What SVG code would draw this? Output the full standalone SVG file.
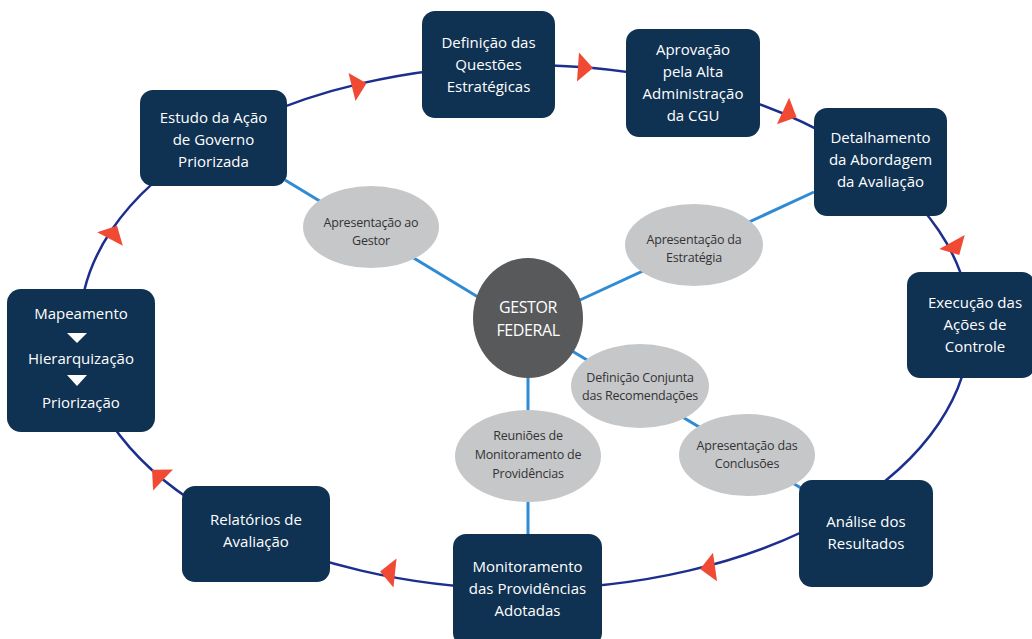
<svg xmlns="http://www.w3.org/2000/svg" xmlns:xlink="http://www.w3.org/1999/xlink" width="1032" height="639" viewBox="0 0 1032 639">
<style>
.box{fill:#0f3152;}
.bt{font-family:"Open Sans","Noto Sans",sans-serif;font-size:15px;fill:#ffffff;text-anchor:middle;}
.oval{fill:#c6c7c9;}
.ot{font-family:"Open Sans","Noto Sans",sans-serif;font-size:12.5px;fill:#333335;text-anchor:middle;letter-spacing:-0.2px;}
.cycle{fill:none;stroke:#1d2f8e;stroke-width:2.5;}
.spoke{fill:none;stroke:#2e8bd4;stroke-width:3;}
.arr{fill:#f04a35;}
</style>
<defs>
<polygon id="ah" class="arr" points="15,0 0,-14.5 0,14.5"/>
</defs>
<rect width="1032" height="639" fill="#ffffff"/>
<g id="connectors">
<ellipse class="cycle" cx="525" cy="327" rx="445" ry="262"/>
<line class="spoke" x1="285" y1="180" x2="478" y2="297"/>
<line class="spoke" x1="814" y1="192" x2="580" y2="300"/>
<line class="spoke" x1="572" y1="351" x2="806" y2="491"/>
<line class="spoke" x1="528" y1="375" x2="528" y2="536"/>
<use xlink:href="#ah" transform="translate(352,87) rotate(-14)"/>
<use xlink:href="#ah" transform="translate(578,67) rotate(4)"/>
<use xlink:href="#ah" transform="translate(783,111) rotate(25)"/>
<use xlink:href="#ah" transform="translate(952,242) rotate(61)"/>
<use xlink:href="#ah" transform="translate(715,567) rotate(172)"/>
<use xlink:href="#ah" transform="translate(395,573) rotate(186)"/>
<use xlink:href="#ah" transform="translate(163,480) rotate(-137)"/>
<use xlink:href="#ah" transform="translate(110,239) rotate(-62)"/>
</g>
<g id="estudo">
<rect class="box" x="140" y="90" width="147" height="96" rx="13"/>
<text class="bt" x="213.5" y="123">Estudo da Ação</text>
<text class="bt" x="213.5" y="145">de Governo</text>
<text class="bt" x="213.5" y="167">Priorizada</text>
</g>
<g id="definicao">
<rect class="box" x="422" y="11" width="133" height="107" rx="13"/>
<text class="bt" x="488.5" y="48">Definição das</text>
<text class="bt" x="488.5" y="70">Questões</text>
<text class="bt" x="488.5" y="92">Estratégicas</text>
</g>
<g id="aprovacao">
<rect class="box" x="626" y="29" width="134" height="108" rx="13"/>
<text class="bt" x="693" y="55">Aprovação</text>
<text class="bt" x="693" y="77">pela Alta</text>
<text class="bt" x="693" y="99">Administração</text>
<text class="bt" x="693" y="121">da CGU</text>
</g>
<g id="detalhamento">
<rect class="box" x="814" y="108" width="133" height="108" rx="13"/>
<text class="bt" x="880.5" y="143">Detalhamento</text>
<text class="bt" x="880.5" y="165">da Abordagem</text>
<text class="bt" x="880.5" y="187">da Avaliação</text>
</g>
<g id="execucao">
<rect class="box" x="907" y="272" width="128" height="106" rx="13"/>
<text class="bt" x="975" y="308">Execução das</text>
<text class="bt" x="975" y="330">Ações de</text>
<text class="bt" x="975" y="352">Controle</text>
</g>
<g id="analise">
<rect class="box" x="799" y="480" width="134" height="107" rx="13"/>
<text class="bt" x="866" y="527">Análise dos</text>
<text class="bt" x="866" y="549">Resultados</text>
</g>
<g id="monitoramento">
<rect class="box" x="453" y="534" width="149" height="112" rx="13"/>
<text class="bt" x="527.5" y="572">Monitoramento</text>
<text class="bt" x="527.5" y="594">das Providências</text>
<text class="bt" x="527.5" y="616">Adotadas</text>
</g>
<g id="relatorios">
<rect class="box" x="182" y="486" width="148" height="96" rx="13"/>
<text class="bt" x="256" y="525">Relatórios de</text>
<text class="bt" x="256" y="547">Avaliação</text>
</g>
<g id="mapeamento">
<rect class="box" x="7" y="289" width="148" height="143" rx="14"/>
<text class="bt" x="81" y="319">Mapeamento</text>
<polygon fill="#ffffff" points="67,333 87,333 77,343"/>
<text class="bt" x="81" y="364">Hierarquização</text>
<polygon fill="#ffffff" points="67,375 87,375 77,386"/>
<text class="bt" x="81" y="408">Priorização</text>
</g>
<g id="gestor">
<ellipse cx="528" cy="318" rx="55" ry="60" fill="#58595b"/>
<text class="bt" x="528" y="313" style="font-size:16px;letter-spacing:-0.4px">GESTOR</text>
<text class="bt" x="528" y="336" style="font-size:16px;letter-spacing:-0.4px">FEDERAL</text>
</g>
<g id="apres-gestor">
<ellipse class="oval" cx="371" cy="227" rx="68" ry="41"/>
<text class="ot" x="371" y="227">Apresentação ao</text>
<text class="ot" x="371" y="245">Gestor</text>
</g>
<g id="apres-estrategia">
<ellipse class="oval" cx="694" cy="245" rx="69" ry="41"/>
<text class="ot" x="694" y="244">Apresentação da</text>
<text class="ot" x="694" y="262">Estratégia</text>
</g>
<g id="definicao-conjunta">
<ellipse class="oval" cx="640" cy="386" rx="69" ry="42"/>
<text class="ot" x="640" y="382">Definição Conjunta</text>
<text class="ot" x="640" y="400">das Recomendações</text>
</g>
<g id="apres-conclusoes">
<ellipse class="oval" cx="747" cy="455" rx="68" ry="41"/>
<text class="ot" x="747" y="450">Apresentação das</text>
<text class="ot" x="747" y="468">Conclusões</text>
</g>
<g id="reunioes">
<ellipse class="oval" cx="528" cy="456" rx="73" ry="46"/>
<text class="ot" x="528" y="440">Reuniões de</text>
<text class="ot" x="528" y="459">Monitoramento de</text>
<text class="ot" x="528" y="478">Providências</text>
</g>
</svg>
